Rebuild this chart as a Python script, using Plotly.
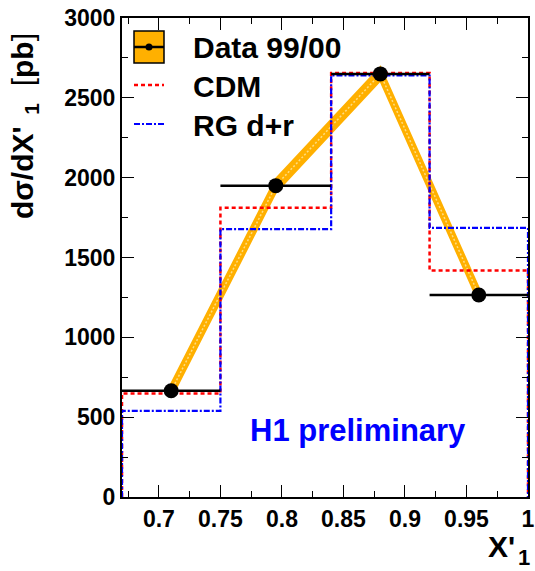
import plotly.graph_objects as go

bin_edges = [0.67, 0.75, 0.84, 0.92, 1.0]
data_x = [0.71, 0.795, 0.88, 0.96]
data_y = [665, 1950, 2650, 1265]
data_err = [40, 40, 40, 40]
cdm_y = [648, 1812, 2655, 1418]
rg_y = [540, 1678, 2640, 1685]

FONT = "Liberation Sans"
PW, PH, L, T = 406.0, 479.0, 122.0, 18.0


def px(x):
    return (x - L) / PW


def py(y):
    return 1 - (y - T) / PH


def step_xy(edges, vals):
    xs = [edges[0]] + list(edges) + [edges[-1]]
    ys = [0] + list(vals) + [vals[-1], 0]
    return xs, ys


fig = go.Figure()

# orange band connecting data points
up = [y + e for y, e in zip(data_y, data_err)]
lo = [y - e for y, e in zip(data_y, data_err)]
fig.add_trace(go.Scatter(x=data_x + data_x[::-1], y=up + lo[::-1], fill="toself",
                         fillcolor="#FFB000", line=dict(color="#FFB000", width=2.5),
                         mode="lines", showlegend=False, hoverinfo="skip"))
fig.add_trace(go.Scatter(x=data_x, y=data_y, mode="lines",
                         line=dict(color="#FFDD80", width=1.5, dash="2px,2px"),
                         showlegend=False, hoverinfo="skip"))

cx, cy = step_xy(bin_edges, cdm_y)
fig.add_trace(go.Scatter(x=cx, y=cy, mode="lines", line_shape="hv",
                         line=dict(color="#FF0000", width=2.5, dash="4px,3px"),
                         showlegend=False))
rx, ry = step_xy(bin_edges, rg_y)
fig.add_trace(go.Scatter(x=rx, y=ry, mode="lines", line_shape="hv",
                         line=dict(color="#0000FF", width=2.2, dash="6px,2px,2px,2px"),
                         showlegend=False))

# data points with bin-width horizontal bars
lefts = [data_x[i] - bin_edges[i] for i in range(len(data_x))]
rights = [bin_edges[i + 1] - data_x[i] for i in range(len(data_x))]
fig.add_trace(go.Scatter(x=data_x, y=data_y, mode="markers",
                         marker=dict(color="black", size=15),
                         error_x=dict(type="data", symmetric=False, array=rights,
                                      arrayminus=lefts, color="black", thickness=2.5, width=0),
                         showlegend=False))

# legend (manual)
fig.add_shape(type="rect", xref="paper", yref="paper", x0=px(134), x1=px(164),
              y0=py(63), y1=py(31), fillcolor="#FFB000",
              line=dict(color="black", width=1.5))
fig.add_shape(type="line", xref="paper", yref="paper", x0=px(134), x1=px(164),
              y0=py(47), y1=py(47), line=dict(color="black", width=2.5))
fig.add_shape(type="circle", xref="paper", yref="paper", x0=px(145.5), x1=px(152.5),
              y0=py(50.5), y1=py(43.5), fillcolor="black", line=dict(color="black", width=0))
fig.add_shape(type="line", xref="paper", yref="paper", x0=px(134), x1=px(164),
              y0=py(85), y1=py(85),
              line=dict(color="#FF0000", width=2.5, dash="4px,3px"))
fig.add_shape(type="line", xref="paper", yref="paper", x0=px(134), x1=px(164),
              y0=py(124), y1=py(124),
              line=dict(color="#0000FF", width=2.2, dash="6px,2px,2px,2px"))
for txt, yy in [("Data 99/00", 48), ("CDM", 87), ("RG d+r", 126)]:
    fig.add_annotation(xref="paper", yref="paper", x=px(191), y=py(yy),
                       text="<b>" + txt + "</b>", showarrow=False, xanchor="left",
                       yanchor="middle", font=dict(family=FONT, size=30, color="black"))

fig.add_annotation(xref="paper", yref="paper", x=px(358), y=py(430),
                   text="<b>H1 preliminary</b>", showarrow=False, xanchor="center",
                   yanchor="middle", font=dict(family=FONT, size=31, color="#0000FF"))

# axis titles
fig.add_annotation(xref="paper", yref="paper", x=px(25), y=py(126),
                   text="<b>dσ/dX'</b><sub>  <b>1</b></sub>  [<b>pb</b>]", showarrow=False,
                   textangle=-90, xanchor="center", yanchor="middle",
                   font=dict(family=FONT, size=30, color="black"))
fig.add_annotation(xref="paper", yref="paper", x=px(517), y=py(546),
                   text="<b>X'</b>", showarrow=False, xanchor="right",
                   yanchor="middle", font=dict(family=FONT, size=30, color="black"))
fig.add_annotation(xref="paper", yref="paper", x=px(524), y=py(571),
                   text="<b>1</b>", showarrow=False, xanchor="center",
                   yanchor="bottom", borderpad=0,
                   font=dict(family=FONT, size=22, color="black"))

axis_common = dict(showgrid=False, zeroline=False, showline=True, linecolor="black",
                   linewidth=2, mirror="allticks", ticks="inside", tickcolor="black",
                   tickwidth=1, automargin=False,
                   tickfont=dict(family=FONT, size=23, color="black"))

xt = [0.7, 0.75, 0.8, 0.85, 0.9, 0.95, 1.0]
xl = ["0.7", "0.75", "0.8", "0.85", "0.9", "0.95", "1"]
yt = [0, 500, 1000, 1500, 2000, 2500, 3000]

fig.update_xaxes(range=[0.67, 1.0], tickvals=xt,
                 ticktext=["<b>%s</b>" % s for s in xl],
                 ticklen=12,
                 minor=dict(tick0=0.675, dtick=0.025, ticks="inside", ticklen=6,
                            tickcolor="black"),
                 **axis_common)
fig.update_yaxes(range=[0, 3000], tickvals=yt,
                 ticktext=["<b>%d</b>" % v for v in yt],
                 ticklen=12,
                 minor=dict(dtick=250, ticks="inside", ticklen=6, tickcolor="black"),
                 **axis_common)

fig.update_layout(width=535, height=571, margin=dict(l=122, r=7, t=18, b=74),
                  plot_bgcolor="white", paper_bgcolor="white", showlegend=False)

# remove the default page margin so the figure sits at the window's top-left corner
fig.write_html("out.html", config={"displayModeBar": False},
               post_script="document.body.style.margin='0';document.body.style.overflow='hidden';")
